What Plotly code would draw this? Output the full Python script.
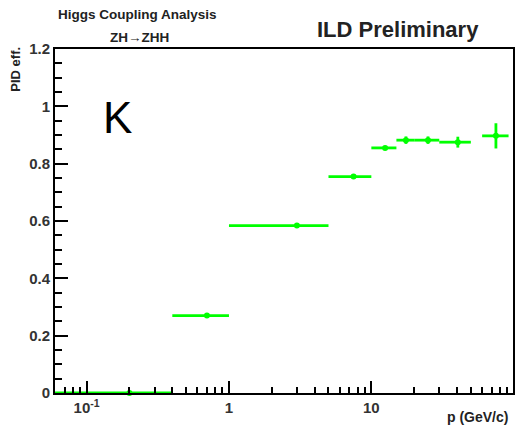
import plotly.graph_objects as go

# Data (kaon PID efficiency vs momentum)
p_lo = [0.06, 0.4, 1.0, 5.0, 10.0, 15.0, 20.0, 30.0, 60.0]
p_hi = [0.4, 1.0, 5.0, 10.0, 15.0, 20.0, 30.0, 50.0, 92.0]
p_center = [0.2, 0.7, 3.0, 7.5, 12.5, 17.5, 25.0, 40.5, 75.0]
eff = [0.0, 0.27, 0.584, 0.755, 0.855, 0.882, 0.882, 0.875, 0.897]
eff_err = [0.0, 0.005, 0.005, 0.007, 0.007, 0.013, 0.013, 0.019, 0.044]

x_tickvals = [0.1, 1, 10]
x_ticktext = ["<b>10<sup>-1</sup></b>", "<b>1</b>", "<b>10</b>"]
x_minor = [0.07, 0.08, 0.09, 0.2, 0.3, 0.4, 0.5, 0.6, 0.7, 0.8, 0.9,
           2, 3, 4, 5, 6, 7, 8, 9, 20, 30, 40, 50, 60, 70, 80, 90]
y_tickvals = [0, 0.2, 0.4, 0.6, 0.8, 1.0, 1.2]
y_ticktext = ["<b>0</b>", "<b>0.2</b>", "<b>0.4</b>", "<b>0.6</b>",
              "<b>0.8</b>", "<b>1</b>", "<b>1.2</b>"]

green = "#00ff00"
font_family = "Liberation Sans, Arial, Helvetica, sans-serif"

fig = go.Figure()
fig.add_trace(go.Scatter(
    x=p_center, y=eff, mode="markers",
    marker=dict(color=green, size=6, symbol="circle"),
    error_x=dict(type="data", symmetric=False,
                 array=[h - c for h, c in zip(p_hi, p_center)],
                 arrayminus=[c - l for c, l in zip(p_center, p_lo)],
                 color=green, thickness=2.8, width=0),
    error_y=dict(type="data", array=eff_err, color=green, thickness=2.8, width=0),
    cliponaxis=False, showlegend=False,
))

fig.update_layout(
    width=516, height=429,
    margin=dict(l=55, r=1, t=49, b=36),
    paper_bgcolor="white", plot_bgcolor="white",
    font=dict(family=font_family, color="#222222"),
    xaxis=dict(
        type="log", range=[-1.222, 1.995],
        showgrid=False, zeroline=False,
        showline=True, linecolor="black", linewidth=2, mirror=True,
        ticks="inside", ticklen=12, tickwidth=1.5, tickcolor="black",
        tickmode="array", tickvals=x_tickvals, ticktext=x_ticktext,
        tickfont=dict(size=15, family=font_family, color="#333333"),
        minor=dict(ticks="inside", ticklen=6, tickwidth=1.5, tickcolor="black",
                   tickmode="array", tickvals=x_minor, showgrid=False),
    ),
    yaxis=dict(
        range=[0, 1.2],
        showgrid=False, zeroline=False,
        showline=True, linecolor="black", linewidth=2, mirror=True,
        ticks="inside", ticklen=13, tickwidth=1.5, tickcolor="black",
        tickmode="array", tickvals=y_tickvals, ticktext=y_ticktext,
        tickfont=dict(size=15, family=font_family, color="#333333"),
        minor=dict(ticks="inside", ticklen=7, tickwidth=1.5, tickcolor="black",
                   dtick=0.05, showgrid=False),
    ),
)

annotations = [
    dict(text="Higgs Coupling Analysis", x=138, y=14, size=13.5),
    dict(text="ZH\u2192ZHH", x=140, y=38, size=13.5),
    dict(text="ILD Preliminary", x=399, y=30, size=22),
    dict(text="p (GeV/c)", x=479, y=417, size=14),
]
for a in annotations:
    fig.add_annotation(
        text="<b>%s</b>" % a["text"], xref="paper", yref="paper",
        x=(a["x"] - 55) / 460,
        y=(429 - 36 - a["y"]) / 344,
        showarrow=False, xanchor="center", yanchor="middle",
        font=dict(size=a["size"], color="#222222", family=font_family),
    )

fig.add_annotation(
    text="<b>PID eff.</b>", xref="paper", yref="paper",
    x=(15 - 55) / 460, y=(429 - 36 - 45) / 344,
    showarrow=False, textangle=-90, xanchor="center", yanchor="top",
    font=dict(size=13, color="#222222", family=font_family),
)
fig.add_annotation(
    text="K", xref="paper", yref="paper",
    x=(118 - 55) / 460, y=(429 - 36 - 117) / 344,
    showarrow=False, xanchor="center", yanchor="middle",
    font=dict(size=44, color="black", family=font_family),
)

fig.write_html("out.html", config={"displayModeBar": False},
               post_script="document.body.style.margin='0';document.body.style.padding='0';")
